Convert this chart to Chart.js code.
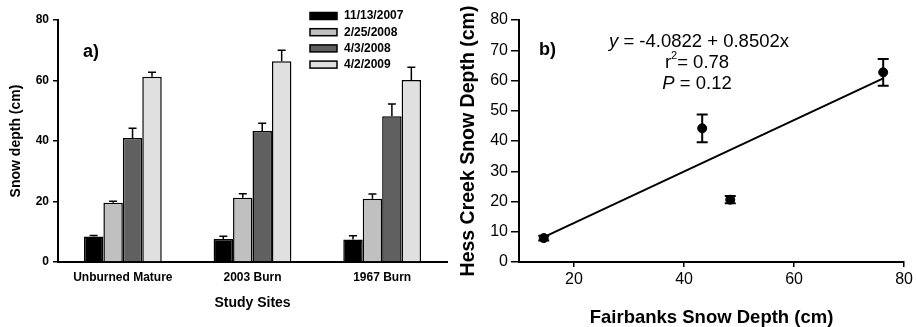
<!DOCTYPE html>
<html>
<head>
<meta charset="utf-8">
<script src="https://cdn.jsdelivr.net/npm/chart.js@4.4.0/dist/chart.umd.min.js"></script>
<style>
html, body { margin: 0; padding: 0; background: #fff; }
#wrap { position: relative; width: 916px; height: 327px; }
#barCanvas { position: absolute; left: 0; top: 0; }
#scatterCanvas { position: absolute; left: 460px; top: 0; }
</style>
</head>
<body>
<div id="wrap">
  <canvas id="barCanvas" width="460" height="327"></canvas>
  <canvas id="scatterCanvas" width="456" height="327"></canvas>
</div>
<script>
// Panel a) - snow depth by site and survey date
const sites = ['Unburned Mature', '2003 Burn', '1967 Burn'];
const surveyDates = ['11/13/2007', '2/25/2008', '4/3/2008', '4/2/2009'];
const depthNov2007 = [8.4, 7.6, 7.4];
const depthFeb2008 = [19.6, 21.2, 20.9];
const depthApr2008 = [41.0, 43.3, 48.2];
const depthApr2009 = [61.2, 66.4, 60.2];
const errNov2007 = [0.4, 0.9, 1.3];
const errFeb2008 = [0.5, 1.4, 1.6];
const errApr2008 = [3.2, 2.6, 4.0];
const errApr2009 = [1.5, 3.6, 4.2];
const depthTicksA = [0, 20, 40, 60, 80];

// Panel b) - Hess Creek vs Fairbanks
const fairbanksDepth = [14.5, 43.3, 48.4, 76.2];
const hessCreekDepth = [7.9, 44.2, 20.6, 62.7];
const hessCreekErr = [0.8, 4.6, 1.2, 4.4];
const fitX = [14.5, 76.2];
const fitY = [8.2, 60.7];
const fairbanksTicks = [20, 40, 60, 80];

const FONT = "'Liberation Sans', Arial, sans-serif";
const barFills = ['#000000', '#c0c0c0', '#606060', '#e0e0e0'];

// upper error bars on the bars
const barErrors = {
    id: 'barErrors',
    afterDatasetsDraw(chart) {
        const ctx = chart.ctx;
        const yScale = chart.scales.y;
        ctx.save();
        ctx.strokeStyle = '#000';
        ctx.lineWidth = 1.5;
        chart.data.datasets.forEach((ds, i) => {
            const meta = chart.getDatasetMeta(i);
            meta.data.forEach((bar, j) => {
                const top = yScale.getPixelForValue(ds.data[j] + ds.errors[j]);
                ctx.beginPath();
                ctx.moveTo(bar.x, bar.y);
                ctx.lineTo(bar.x, top);
                ctx.moveTo(bar.x - 4, top);
                ctx.lineTo(bar.x + 4, top);
                ctx.stroke();
            });
        });
        ctx.restore();
    }
};

// legend box + panel tag for a)
const barLegend = {
    id: 'barLegend',
    afterDraw(chart) {
        const ctx = chart.ctx;
        ctx.save();
        ctx.font = 'bold 12px ' + FONT;
        ctx.textBaseline = 'middle';
        chart.data.datasets.forEach((ds, i) => {
            const y = 16 + i * 16.2;
            ctx.fillStyle = ds.backgroundColor;
            ctx.fillRect(310, y - 3.5, 27, 7);
            ctx.strokeStyle = '#000';
            ctx.lineWidth = 1.5;
            ctx.strokeRect(310, y - 3.5, 27, 7);
            ctx.fillStyle = '#000';
            ctx.fillText(ds.label, 344, y);
        });
        ctx.font = 'bold 18px ' + FONT;
        ctx.fillText('a)', 83, 52);
        ctx.restore();
    }
};

new Chart(document.getElementById('barCanvas'), {
    type: 'bar',
    data: {
        labels: sites,
        datasets: [
            { label: surveyDates[0], data: depthNov2007, errors: errNov2007 },
            { label: surveyDates[1], data: depthFeb2008, errors: errFeb2008 },
            { label: surveyDates[2], data: depthApr2008, errors: errApr2008 },
            { label: surveyDates[3], data: depthApr2009, errors: errApr2009 }
        ].map((ds, i) => Object.assign(ds, {
            backgroundColor: barFills[i],
            borderColor: '#000',
            borderWidth: 1.5,
            categoryPercentage: 0.6,
            barPercentage: 1.0
        }))
    },
    options: {
        responsive: false,
        animation: false,
        layout: { padding: { top: 20, right: 13, left: 0, bottom: 0 } },
        plugins: { legend: { display: false }, tooltip: { enabled: false } },
        scales: {
            x: {
                grid: { display: true, drawOnChartArea: false, drawTicks: false },
                border: { color: '#000', width: 2 },
                ticks: { color: '#000', padding: 8, font: { family: FONT, size: 12, weight: 'bold' } },
                title: {
                    display: true, text: 'Study Sites', color: '#000',
                    font: { family: FONT, size: 14, weight: 'bold' },
                    padding: { top: 0, bottom: 15 }
                },
                afterFit(axis) { axis.height = 65; }
            },
            y: {
                min: 0, max: 80,
                afterBuildTicks(axis) { axis.ticks = depthTicksA.map(v => ({ value: v })); },
                grid: { drawOnChartArea: false, tickLength: 5, color: '#000', lineWidth: 1.5 },
                border: { color: '#000', width: 2 },
                ticks: { color: '#000', padding: 4, font: { family: FONT, size: 12, weight: 'bold' } },
                title: {
                    display: true, text: 'Snow depth (cm)', color: '#000',
                    font: { family: FONT, size: 14, weight: 'bold' },
                    padding: { top: 8, bottom: 0 }
                },
                afterFit(axis) { axis.width = 58; }
            }
        }
    },
    plugins: [barErrors, barLegend]
});

// symmetric error bars on the scatter points
const pointErrors = {
    id: 'pointErrors',
    afterDatasetsDraw(chart) {
        const ctx = chart.ctx;
        const xs = chart.scales.x, ys = chart.scales.y;
        const ds = chart.data.datasets[0];
        ctx.save();
        ctx.strokeStyle = '#000';
        ctx.lineWidth = 2;
        ds.data.forEach((p, i) => {
            const x = xs.getPixelForValue(p.x);
            const top = ys.getPixelForValue(p.y + ds.errors[i]);
            const bot = ys.getPixelForValue(p.y - ds.errors[i]);
            ctx.beginPath();
            ctx.moveTo(x, top); ctx.lineTo(x, bot);
            ctx.moveTo(x - 5.5, top); ctx.lineTo(x + 5.5, top);
            ctx.moveTo(x - 5.5, bot); ctx.lineTo(x + 5.5, bot);
            ctx.stroke();
        });
        ctx.restore();
    }
};

function drawSegments(ctx, parts, cx, y) {
    let total = 0;
    parts.forEach(p => { ctx.font = p.font; total += ctx.measureText(p.t).width; });
    let x = cx - total / 2;
    parts.forEach(p => {
        ctx.font = p.font;
        ctx.fillText(p.t, x, y + (p.dy || 0));
        x += ctx.measureText(p.t).width;
    });
}

// regression statistics + panel tag for b)
const fitNotes = {
    id: 'fitNotes',
    afterDraw(chart) {
        const ctx = chart.ctx;
        const reg = '18.5px ' + FONT, ital = 'italic 18.5px ' + FONT, sup = '11px ' + FONT;
        ctx.save();
        ctx.fillStyle = '#000';
        ctx.textBaseline = 'middle';
        drawSegments(ctx, [{ t: 'y', font: ital }, { t: ' = -4.0822 + 0.8502x', font: reg }], 239, 42);
        drawSegments(ctx, [{ t: 'r', font: reg }, { t: '2', font: sup, dy: -7 }, { t: '= 0.78', font: reg }], 237, 63);
        drawSegments(ctx, [{ t: 'P', font: ital }, { t: ' = 0.12', font: reg }], 237, 84);
        ctx.font = 'bold 18px ' + FONT;
        ctx.fillText('b)', 79, 50);
        ctx.restore();
    }
};

new Chart(document.getElementById('scatterCanvas'), {
    type: 'scatter',
    data: {
        datasets: [
            {
                label: 'Sites',
                data: fairbanksDepth.map((x, i) => ({ x: x, y: hessCreekDepth[i] })),
                errors: hessCreekErr,
                pointRadius: 4.5,
                pointBackgroundColor: '#000',
                pointBorderColor: '#000'
            },
            {
                type: 'line',
                label: 'Fit',
                data: fitX.map((x, i) => ({ x: x, y: fitY[i] })),
                borderColor: '#000',
                borderWidth: 2,
                pointRadius: 0,
                fill: false
            }
        ]
    },
    options: {
        responsive: false,
        animation: false,
        layout: { padding: { top: 20, right: 9, left: 0, bottom: 0 } },
        plugins: { legend: { display: false }, tooltip: { enabled: false } },
        scales: {
            x: {
                type: 'linear', position: 'bottom',
                min: 10, max: 80,
                afterBuildTicks(axis) { axis.ticks = fairbanksTicks.map(v => ({ value: v })); },
                grid: { drawOnChartArea: false, tickLength: 5, color: '#000', lineWidth: 1.5 },
                border: { color: '#000', width: 2 },
                ticks: { color: '#000', padding: 3, maxRotation: 0, font: { family: FONT, size: 16 } },
                title: {
                    display: true, text: 'Fairbanks Snow Depth (cm)', color: '#000',
                    font: { family: FONT, size: 18.5, weight: 'bold', lineHeight: 1 },
                    padding: { top: 0, bottom: 0 }
                },
                afterFit(axis) { axis.height = 65; }
            },
            y: {
                min: 0, max: 80,
                ticks: { stepSize: 10, color: '#000', padding: 3, font: { family: FONT, size: 16 } },
                grid: { drawOnChartArea: false, tickLength: 8, color: '#000', lineWidth: 1.5 },
                border: { color: '#000', width: 2 },
                title: {
                    display: true, text: 'Hess Creek Snow Depth (cm)', color: '#000',
                    font: { family: FONT, size: 19.5, weight: 'bold', lineHeight: 1 },
                    padding: { top: -1, bottom: 0 }
                },
                afterFit(axis) { axis.width = 59; }
            }
        }
    },
    plugins: [pointErrors, fitNotes]
});
</script>
</body>
</html>
